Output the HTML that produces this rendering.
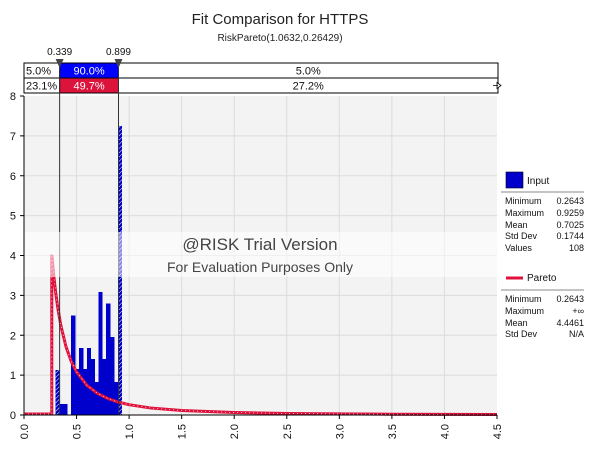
<!DOCTYPE html>
<html><head><meta charset="utf-8"><style>
body{margin:0;background:#fff;width:591px;height:450px;overflow:hidden;font-family:"Liberation Sans",sans-serif}
</style></head><body>
<svg id="chart" width="591" height="450" xmlns="http://www.w3.org/2000/svg" font-family="Liberation Sans, sans-serif">
<defs>
<pattern id="hatchW" width="3" height="3" patternUnits="userSpaceOnUse" patternTransform="rotate(45)"><line x1="0" y1="0" x2="0" y2="3" stroke="#fff" stroke-width="1"/></pattern>
<clipPath id="outsideClip"><rect id="clipL" x="0" y="0" width="0" height="450"/><rect id="clipR" x="0" y="0" width="0" height="450"/></clipPath>
</defs>
<text x="280" y="24" text-anchor="middle" font-size="15" fill="#222">Fit Comparison for HTTPS</text>
<text x="280" y="41" text-anchor="middle" font-size="10" fill="#222">RiskPareto(1.0632,0.26429)</text>
<rect x="24" y="96" width="473" height="319" fill="#f3f3f3"/>
<g id="grid"></g>
<g id="bars" shape-rendering="crispEdges"></g>
<g id="hatch" clip-path="url(#outsideClip)"></g>
<g id="curve"></g>
<g id="delims"></g>
<rect x="24" y="232" width="473" height="45" fill="#fff" opacity="0.55"/>
<text x="260" y="250" text-anchor="middle" font-size="17" fill="#444">@RISK Trial Version</text>
<text x="260" y="272" text-anchor="middle" font-size="14" fill="#444">For Evaluation Purposes Only</text>
<g id="axes"></g>
<g font-size="9" fill="#111">
<rect x="506" y="172" width="17" height="16" fill="#0000cc" stroke="#000" stroke-width="0.6"/>
<text x="527" y="184" font-size="10">Input</text>
<line x1="501" y1="192" x2="584" y2="192" stroke="#888"/>
<text x="505" y="204">Minimum</text><text x="584" y="204" text-anchor="end">0.2643</text>
<text x="505" y="216">Maximum</text><text x="584" y="216" text-anchor="end">0.9259</text>
<text x="505" y="228">Mean</text><text x="584" y="228" text-anchor="end">0.7025</text>
<text x="505" y="239">Std Dev</text><text x="584" y="239" text-anchor="end">0.1744</text>
<text x="505" y="251">Values</text><text x="584" y="251" text-anchor="end">108</text>
<line x1="506" y1="278" x2="523" y2="278" stroke="#e0103c" stroke-width="3"/>
<text x="527" y="281" font-size="10">Pareto</text>
<line x1="501" y1="290" x2="584" y2="290" stroke="#888"/>
<text x="505" y="302">Minimum</text><text x="584" y="302" text-anchor="end">0.2643</text>
<text x="505" y="314">Maximum</text><text x="584" y="314" text-anchor="end">+∞</text>
<text x="505" y="326">Mean</text><text x="584" y="326" text-anchor="end">4.4461</text>
<text x="505" y="337">Std Dev</text><text x="584" y="337" text-anchor="end">N/A</text>
</g>
</svg>
<script>
const binStart = 0.2643;
const binWidth = 0.037;
const binValues = [0,1.13,0.28,0.28,0,2.5,1.15,1.68,1.15,1.68,1.4,0.83,3.08,1.4,2.8,1.95,0.83,7.25];
const curveX = [0.2643,0.28,0.3,0.32,0.35,0.4,0.45,0.5,0.6,0.7,0.8,0.9,1.0,1.2,1.5,2.0,2.5,3.0,3.5,4.0,4.5];
const curveY = [4.02,3.57,3.10,2.71,2.25,1.71,1.34,1.08,0.74,0.54,0.41,0.32,0.258,0.177,0.112,0.062,0.039,0.027,0.0195,0.0148,0.0116];
const xTicks = ["0.0","0.5","1.0","1.5","2.0","2.5","3.0","3.5","4.0","4.5"];
const yTicks = ["0","1","2","3","4","5","6","7","8"];
const delimX = [0.339,0.899];
const topPct = ["5.0%","90.0%","5.0%"];
const botPct = ["23.1%","49.7%","27.2%"];

const NS="http://www.w3.org/2000/svg";
const X0=24,X1=497,Y0=415,Y1=96;
const sx=v=>X0+(v/4.5)*(X1-X0);
const sy=v=>Y0-(v/8)*(Y0-Y1);
function mk(parent,tag,attrs){const e=document.createElementNS(NS,tag);for(const k in attrs)e.setAttribute(k,attrs[k]);document.getElementById(parent).appendChild(e);return e;}

document.getElementById('clipL').setAttribute('x',X0);
document.getElementById('clipL').setAttribute('width',sx(delimX[0])-X0);
document.getElementById('clipR').setAttribute('x',sx(delimX[1]));
document.getElementById('clipR').setAttribute('width',X1-sx(delimX[1]));

xTicks.forEach((t,i)=>{const v=parseFloat(t);const x=sx(v);
 if(i>0&&i<xTicks.length-1){const g=mk('grid','line',{x1:x,x2:x,y1:Y1,y2:Y0,stroke:'#dcdcdc'});
 
 }
 const tk=mk('axes','line',{x1:x,x2:x,y1:Y0,y2:Y0+4,stroke:'#000'});
 
 
 const lb=mk('axes','text',{x:0,y:0,'font-size':'11','text-anchor':'end',fill:'#111',transform:`translate(${x+4},${Y0+9}) rotate(-90)`});
 lb.textContent=t;
 
 
});
yTicks.forEach((t,i)=>{const y=sy(parseFloat(t));
 if(i>0&&i<yTicks.length-1){const g=mk('grid','line',{x1:X0,x2:X1,y1:y,y2:y,stroke:'#dcdcdc'});
 
 }
 const tk=mk('axes','line',{x1:X0-4,x2:X0,y1:y,y2:y,stroke:'#000'});
 
 
 const lb=mk('axes','text',{x:X0-8,y:y+4,'font-size':'11','text-anchor':'end',fill:'#111'});
 lb.textContent=t;
 
 
});
const ax=mk('axes','path',{d:`M${X0},${Y1}V${Y0}H${X1}`,fill:'none',stroke:'#000'});



binValues.forEach((v,i)=>{if(v<=0)return;
 const a=sx(binStart+i*binWidth),b=sx(binStart+(i+1)*binWidth);
 const r=mk('bars','rect',{x:a,y:sy(v),width:b-a+0.4,height:sy(0)-sy(v),fill:'#0000cc'});
 
 
 const h=mk('hatch','rect',{x:a,y:sy(v),width:b-a+0.4,height:sy(0)-sy(v),fill:'url(#hatchW)'});
 
 
});

let d=`M${X0},${sy(0)-1}L${sx(curveX[0])},${sy(0)-1}`;
curveX.forEach((x,i)=>{d+=`L${sx(x)},${sy(curveY[i])}`;});
const c=mk('curve','path',{d:d,fill:'none',stroke:'#e0103c','stroke-width':'3'});


const c2=mk('curve','path',{d:d,fill:'none',stroke:'#fff','stroke-width':'0.7','stroke-dasharray':'1 3'});



const bx=[X0,sx(delimX[0]),sx(delimX[1]),498];
[[63,topPct,'#0000ff'],[78,botPct,'#dc143c']].forEach(([y,pcts,col],row)=>{
 for(let k=0;k<3;k++){
  const r=mk('delims','rect',{x:bx[k],y:y,width:bx[k+1]-bx[k],height:15,fill:k==1?col:'#fff',stroke:'#000','stroke-width':'1'});
  
  
  const tx=k==0?bx[0]+2:(bx[k]+bx[k+1])/2;
  const t=mk('delims','text',{x:tx,y:y+11.5,'font-size':'11','text-anchor':k==0?'start':'middle',fill:k==1?'#fff':'#111'});
  t.textContent=pcts[k];
  
  
 }
});
delimX.forEach(v=>{const x=sx(v);
 const l=mk('delims','line',{x1:x,x2:x,y1:63,y2:Y0,stroke:'#333','stroke-width':'1'});
 
 
 const m=mk('delims','path',{d:`M${x-4},59L${x+4},59L${x},68Z`,fill:'#444'});
 
 
 const t=mk('delims','text',{x:x,y:55,'font-size':'10','text-anchor':'middle',fill:'#111'});
 t.textContent=v.toFixed(3);
 
 
});
const arr=mk('delims','path',{d:'M493,85.5H498M497,82.5L501,85.5L497,88.5Z',fill:'#fff',stroke:'#000','stroke-width':'0.8'});


</script>
</body></html>
